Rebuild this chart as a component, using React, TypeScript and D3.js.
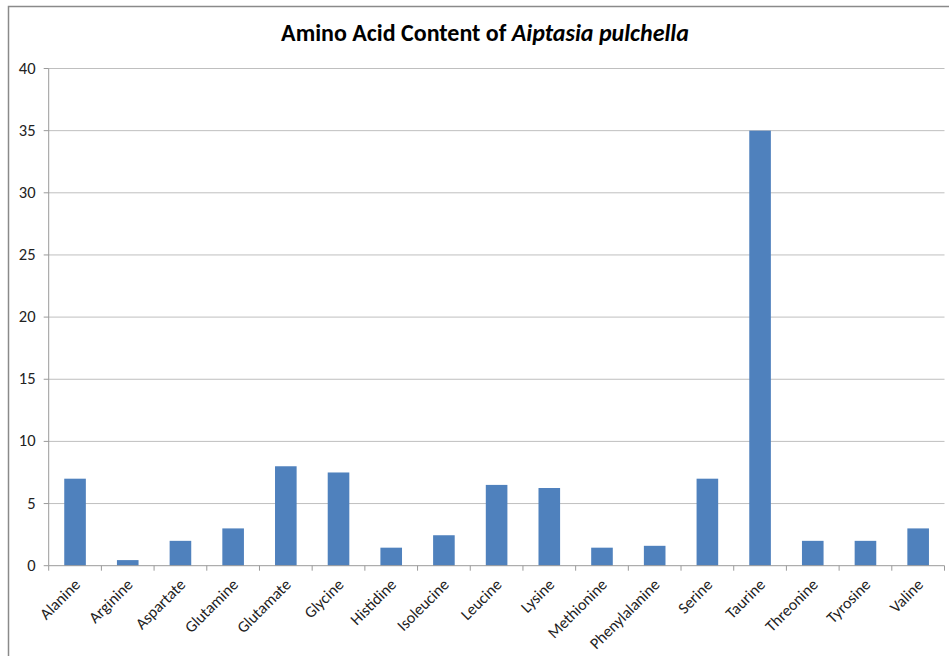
import React from "react";
import * as d3 from "d3";

const categories: string[] = [
  "Alanine", "Arginine", "Aspartate", "Glutamine", "Glutamate", "Glycine",
  "Histidine", "Isoleucine", "Leucine", "Lysine", "Methionine", "Phenylalanine",
  "Serine", "Taurine", "Threonine", "Tyrosine", "Valine",
];
const values: number[] = [7, 0.45, 2, 3, 8, 7.5, 1.45, 2.45, 6.5, 6.25, 1.45, 1.6, 7, 35, 2, 2, 3];
const yTicks: number[] = [0, 5, 10, 15, 20, 25, 30, 35, 40];

const W = 949;
const H = 656;
const left = 48.7;
const right = 944.5;
const top = 68.5;
const bottom = 565.7;
const font = "Calibri, Carlito, 'Open Sans', 'Liberation Sans', sans-serif";

export default function App() {
  const x = d3.scaleBand<string>().domain(categories).range([left, right]).paddingInner(0.59).paddingOuter(0.295);
  const xb = d3.scaleBand<string>().domain(categories).range([left, right]);
  const y = d3.scaleLinear().domain([0, 40]).range([bottom, top]);
  const tickXs = categories.map((c) => xb(c) as number).concat([right]);

  return (
    <svg width={W} height={H} style={{ position: "absolute", left: 0, top: 0, display: "block", background: "#fff" }}>
      <rect x={8.5} y={6.5} width={W + 20} height={H + 20} fill="#fff" stroke="#8a8a8a" strokeWidth={1.5} />
      <text x={485} y={41} textAnchor="middle" fontFamily={font} fontSize={24} fontWeight="bold" fill="#000">
        Amino Acid Content of <tspan fontStyle="italic">Aiptasia pulchella</tspan>
      </text>
      {yTicks.map((t) => (
        <g key={t}>
          {t > 0 && <line x1={left} x2={right} y1={y(t)} y2={y(t)} stroke="#bfbfbf" strokeWidth={1} />}
          <line x1={left - 5} x2={left} y1={y(t)} y2={y(t)} stroke="#9a9a9a" strokeWidth={1} />
          <text x={35.5} y={y(t) + 5} textAnchor="end" fontFamily={font} fontSize={16.5} fill="#222">
            {t}
          </text>
        </g>
      ))}
      <line x1={left} x2={left} y1={top} y2={bottom} stroke="#9a9a9a" strokeWidth={1} />
      {categories.map((c, i) => (
        <rect key={c} x={x(c)} y={y(values[i])} width={x.bandwidth()} height={bottom - y(values[i])} fill="#4f81bd" />
      ))}
      <line x1={left} x2={right} y1={bottom} y2={bottom} stroke="#9a9a9a" strokeWidth={1} />
      {tickXs.map((tx, i) => (
        <line key={i} x1={tx} x2={tx} y1={bottom} y2={bottom + 5} stroke="#9a9a9a" strokeWidth={1} />
      ))}
      {categories.map((c) => {
        const cx = (xb(c) as number) + xb.bandwidth() / 2;
        return (
          <text
            key={c}
            transform={`translate(${cx + 6},${bottom + 20}) rotate(-45)`}
            textAnchor="end"
            fontFamily={font}
            fontSize={16}
            fill="#222"
          >
            {c}
          </text>
        );
      })}
    </svg>
  );
}
